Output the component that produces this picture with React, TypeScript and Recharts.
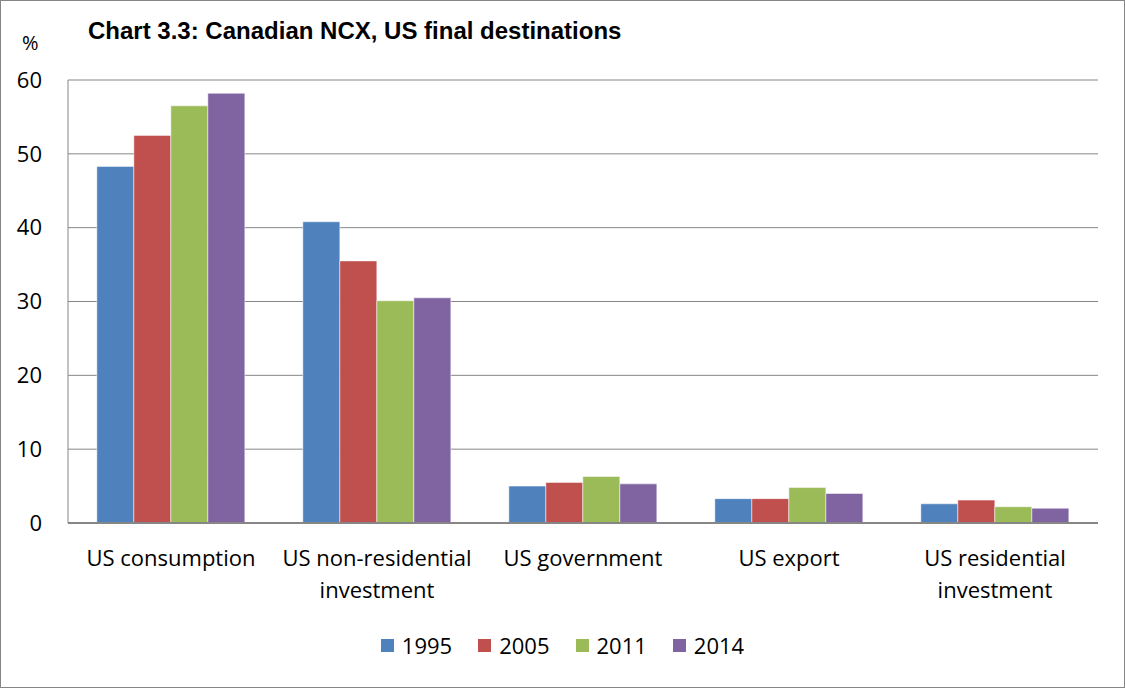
import React from 'react';
import { BarChart, Bar, XAxis, YAxis, CartesianGrid } from 'recharts';

const categories = ['US consumption', 'US non-residential investment', 'US government', 'US export', 'US residential investment'];
const years = ['1995', '2005', '2011', '2014'];
const colors = ['#4F81BD', '#C0504D', '#9BBB59', '#8064A2'];
const v1995 = [48.3, 40.8, 5.0, 3.3, 2.6];
const v2005 = [52.5, 35.5, 5.5, 3.3, 3.1];
const v2011 = [56.5, 30.1, 6.3, 4.8, 2.2];
const v2014 = [58.2, 30.5, 5.3, 4.0, 2.0];
const yTicks = [0, 10, 20, 30, 40, 50, 60];

const series = [v1995, v2005, v2011, v2014];
const data = categories.map((name, i) => {
  const row: Record<string, string | number> = { name };
  years.forEach((y, j) => { row[y] = series[j][i]; });
  return row;
});

const FONT = '"Open Sans", "Liberation Sans", sans-serif';

// Excel wraps the long names before "investment"
const CatTick = (props: any) => {
  const { x, y, payload } = props;
  const lines = String(payload.value).replace(' investment', '\ninvestment').split('\n');
  return (
    <text x={x} y={y} textAnchor="middle" style={{ fontFamily: FONT, fontSize: 22, fill: '#000' }}>
      {lines.map((l, i) => (
        <tspan key={i} x={x} dy={i === 0 ? 35 : 32}>{l}</tspan>
      ))}
    </text>
  );
};

export default function App() {
  return (
    <div style={{ position: 'absolute', left: 0, top: 0, width: 1125, height: 688, background: '#fff' }}>
      <div style={{ position: 'absolute', inset: 0, border: '1px solid #868686', boxSizing: 'border-box', pointerEvents: 'none' }} />
      <div style={{ position: 'absolute', left: 22, top: 29, fontFamily: FONT, fontSize: 20 }}>%</div>
      <div style={{ position: 'absolute', left: 88, top: 17, fontFamily: '"Liberation Sans", Arial, sans-serif', fontWeight: 'bold', fontSize: 24 }}>
        Chart 3.3: Canadian NCX, US final destinations
      </div>
      <BarChart width={1125} height={688} data={data} barGap={0} barCategoryGap="14%"
        margin={{ top: 80, right: 27, left: 20, bottom: 0 }}>
        <CartesianGrid vertical={false} stroke="#868686" strokeWidth={1} />
        <XAxis dataKey="name" height={165} tickLine={false} axisLine={{ stroke: '#868686', strokeWidth: 2 }}
          tick={<CatTick />} interval={0} />
        <YAxis domain={[0, 60]} ticks={yTicks} width={48} tickLine={false} axisLine={{ stroke: '#868686' }}
          tick={{ fontFamily: FONT, fontSize: 22, fill: '#000' }} tickMargin={20} />
        {years.map((y, j) => (
          <Bar key={y} dataKey={y} fill={colors[j]} stroke="#fff" strokeWidth={0.5} isAnimationActive={false} />
        ))}
      </BarChart>
      <div style={{ position: 'absolute', left: 0, width: 1125, top: 630, display: 'flex', justifyContent: 'center', gap: 26, fontFamily: FONT, fontSize: 22 }}>
        {years.map((y, j) => (
          <div key={y} style={{ display: 'flex', alignItems: 'center', gap: 8 }}>
            <span style={{ display: 'inline-block', width: 13, height: 13, background: colors[j] }} />
            <span>{y}</span>
          </div>
        ))}
      </div>
    </div>
  );
}
